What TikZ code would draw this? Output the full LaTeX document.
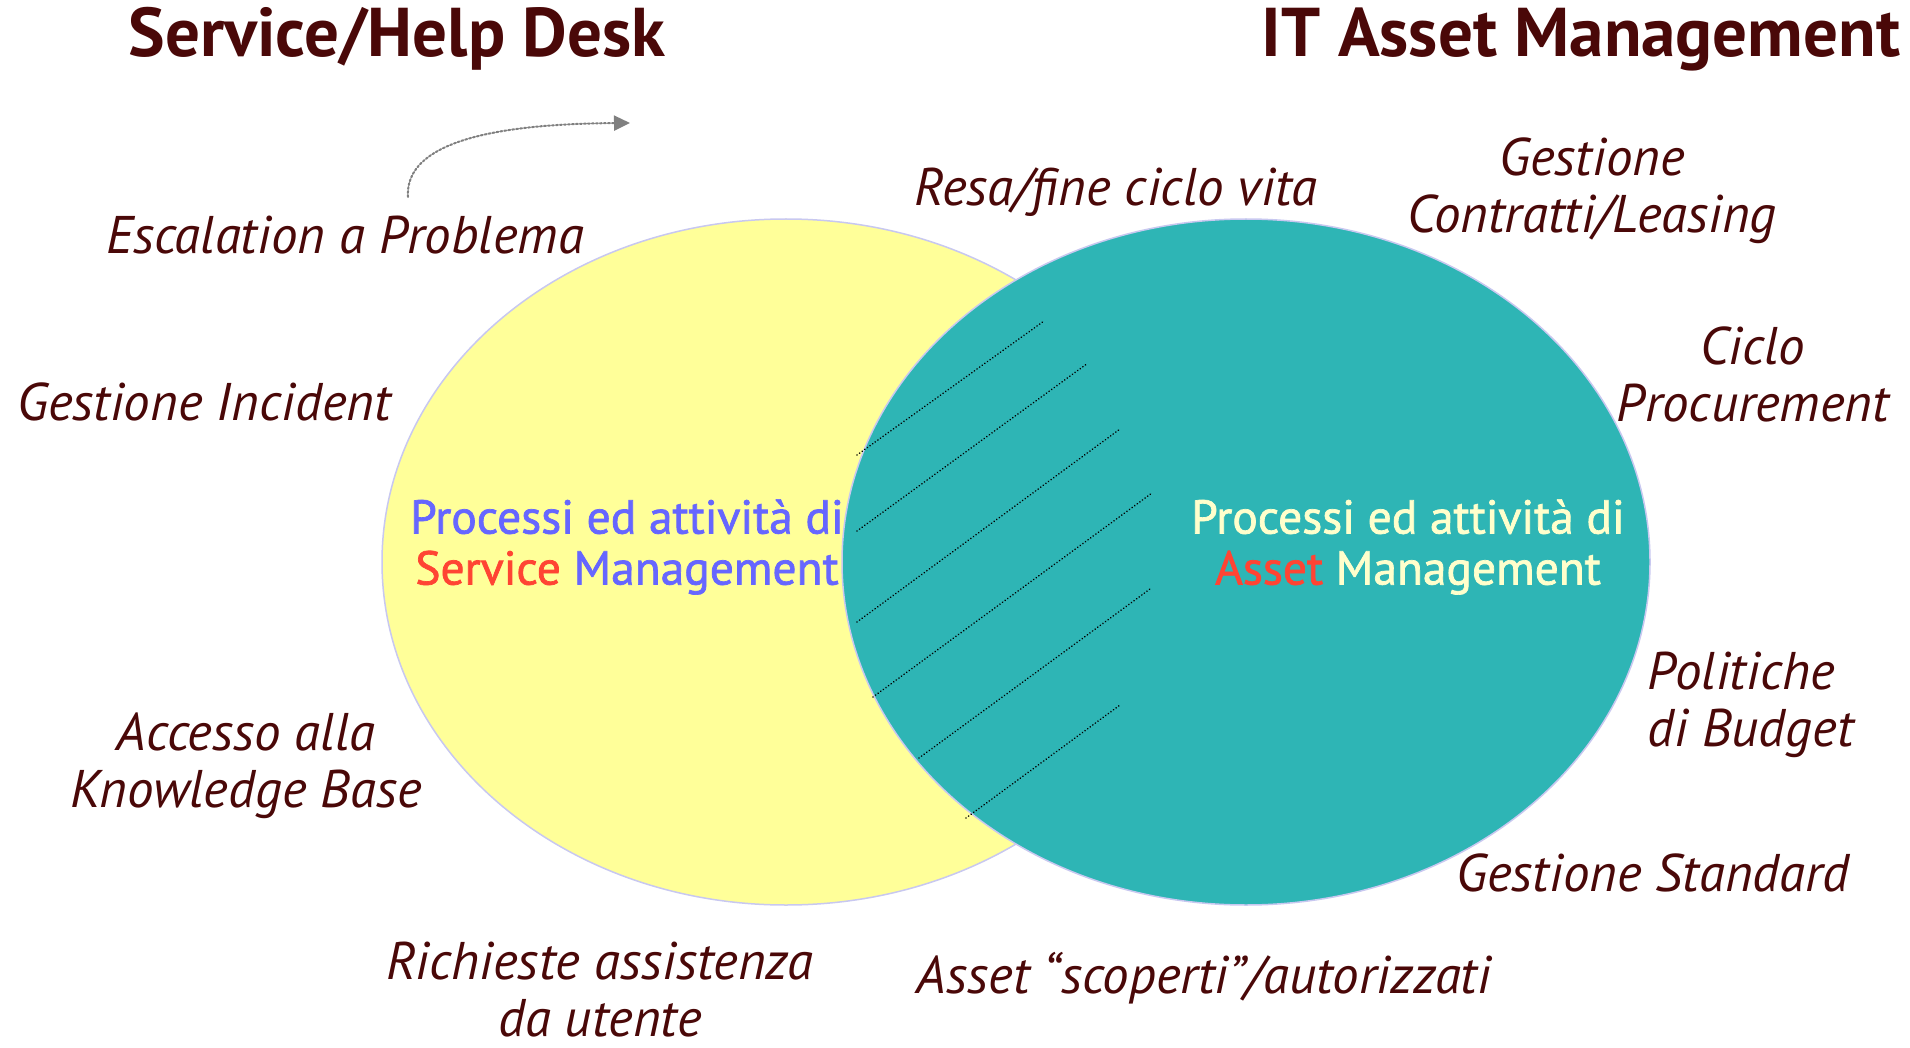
\documentclass[tikz,border=0pt]{standalone}
\usepackage{fontspec}
\setmainfont{PT Sans}
\newfontfamily\corefont[FakeBold=1.5]{PT Sans}
\usepackage{xcolor}
\usepackage{tikz}
\usetikzlibrary{arrows.meta}
\definecolor{deskYellow}{HTML}{FFFF99}
\definecolor{assetTeal}{HTML}{2EB5B5}
\definecolor{rimLilac}{HTML}{C8C8F0}
\definecolor{labelMaroon}{HTML}{4A0808}
\definecolor{procBlue}{HTML}{6666FF}
\definecolor{procRed}{HTML}{FF4433}
\definecolor{procCream}{HTML}{FFFFCC}

\begin{document}
\begin{tikzpicture}[x=1pt, y=-1pt, line cap=round,
	tag/.style={text=labelMaroon, font=\fontsize{53}{57}\selectfont\itshape, align=center, inner sep=0pt},
	heading/.style={text=labelMaroon, font=\fontsize{69}{75}\selectfont\bfseries, inner sep=0pt},
	core/.style={font=\fontsize{47.5}{51}\corefont, align=center, inner sep=0pt},
	hatch/.style={black, line width=1.8pt, dash pattern=on 0.01pt off 3.2pt}]

	\useasboundingbox (0,0) rectangle (1910,1048);
	\fill[white] (0,0) rectangle (1910,1048);

	% the two process areas
	\filldraw[fill=deskYellow, draw=rimLilac, line width=1.5pt] (786,562) ellipse [x radius=404pt, y radius=343pt];
	\filldraw[fill=assetTeal, draw=rimLilac, line width=1.5pt] (1246,562) ellipse [x radius=404pt, y radius=343pt];

	% overlap hatching
	\draw[hatch] (857,455) -- (1044,321);
	\draw[hatch] (857,531) -- (1088,363);
	\draw[hatch] (857,622) -- (1120,429);
	\draw[hatch] (873,697) -- (1152,493);
	\draw[hatch] (919,758) -- (1150,589);
	\draw[hatch] (966,818) -- (1120,705);

	% headings
	\node[heading] (desk) at (397,39) {Service/Help Desk};
	\node[heading] (itam) at (1581,39) {IT Asset Management};

	% inside the areas
	\node[core, text=procBlue] (deskCore) at (627,547) {Processi ed attività di\\\textcolor{procRed}{Service} Management};
	\node[core, text=procCream] (itamCore) at (1408,547) {Processi ed attività di\\\textcolor{procRed}{Asset} Management};

	% service desk activities
	\node[tag] (escal) at (345,235) {Escalation a Problema};
	\node[tag] (incid) at (204,402) {Gestione Incident};
	\node[tag] (kbase) at (246,766) {Accesso alla\\Knowledge Base};
	\node[tag] (richi) at (600,990) {Richieste assistenza\\da utente};

	% asset management activities
	\node[tag] (resa) at (1116,192) {Resa/fine ciclo vita};
	\node[tag] (contr) at (1592,191) {Gestione\\Contratti/Leasing};
	\node[tag] (procu) at (1753,374) {Ciclo\\Procurement};
	\node[tag, anchor=west, align=left] (budg) at (1647,705) {Politiche\\di Budget};
	\node[tag] (stand) at (1653,873) {Gestione Standard};
	\node[tag] (scop) at (1204,978) {Asset “scoperti”/autorizzati};

	% escalation arrow
	\coordinate (escFrom) at (408,197);
	\coordinate (escTo) at (630,123);
	\draw[gray, dotted, line width=2pt, -{Triangle[length=16pt, width=15pt]}] (escFrom) .. controls (405,150) and (470,124) .. (escTo);

\end{tikzpicture}
\end{document}
